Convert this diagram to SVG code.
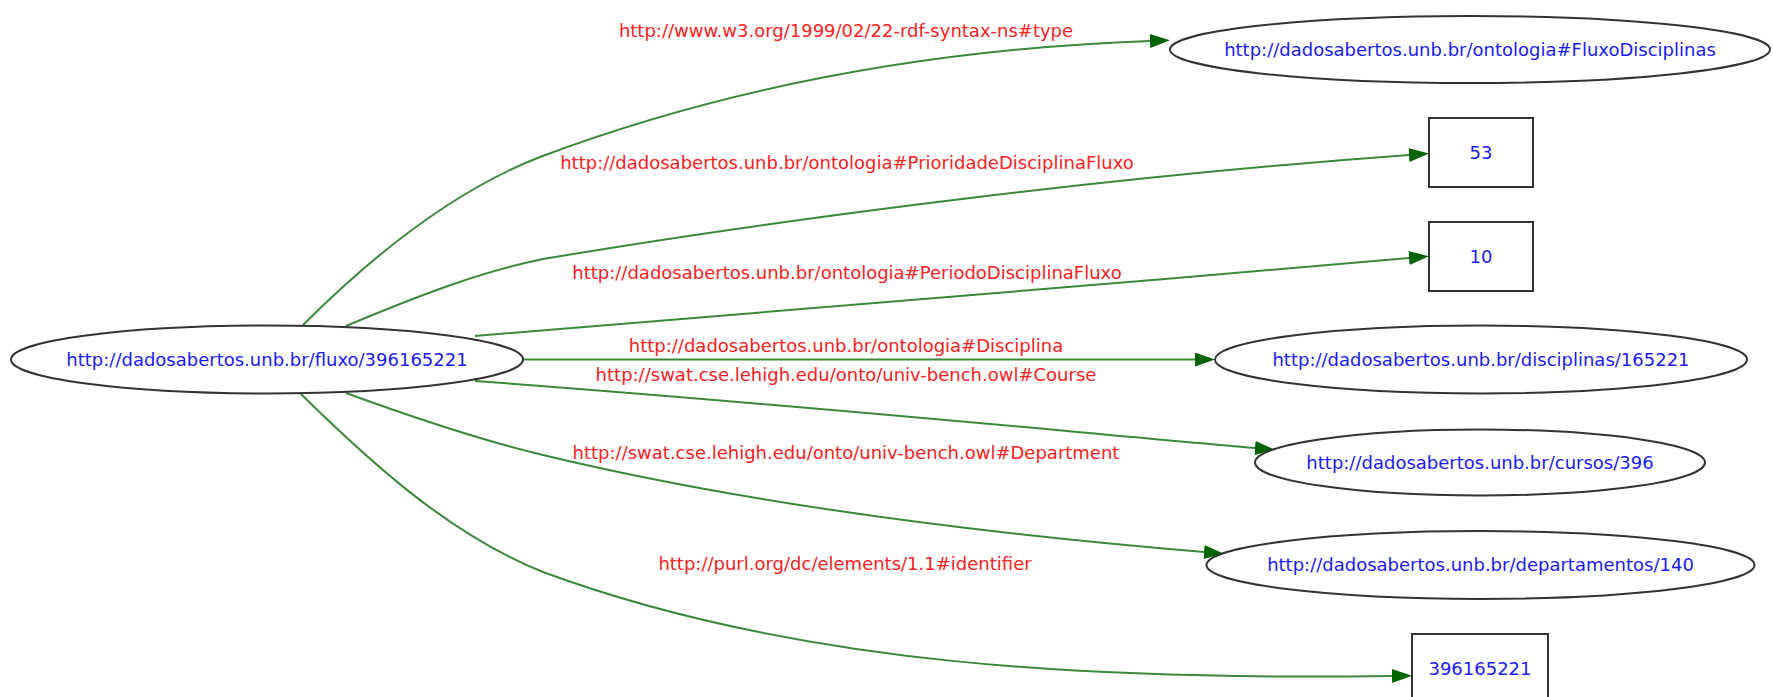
<svg xmlns="http://www.w3.org/2000/svg" width="1773" height="697" viewBox="0 0 1773 697">
  <style>
    .node ellipse, .node rect { fill: #ffffff; stroke: #333333; stroke-width: 2; }
    .node text { font-family: "DejaVu Sans", sans-serif; font-size: 18px; fill: #1a1aff; text-anchor: middle; }
    .edge path { fill: none; stroke: #3a883a; stroke-width: 2; }
    .edge text { font-family: "DejaVu Sans", sans-serif; font-size: 18px; fill: #ff2020; text-anchor: middle; }
  </style>
  <defs>
    <marker id="arrow" markerUnits="userSpaceOnUse" markerWidth="22" markerHeight="16" refX="0" refY="7" orient="auto">
      <path d="M0,0 L20,7 L0,14 z" fill="#006400"/>
    </marker>
  </defs>
  <rect width="1773" height="697" fill="#ffffff"/>

  <g id="connectors">
    <g class="edge" id="e-type">
      <path d="M303,325 C370,258 450,192 540,157 C700,97 900,50 1150,41" marker-end="url(#arrow)"/>
      <text x="846" y="37">http://www.w3.org/1999/02/22-rdf-syntax-ns#type</text>
    </g>
    <g class="edge" id="e-prioridade">
      <path d="M346,326 C420,295 480,272 543,259 C800,216 1120,176 1409,155" marker-end="url(#arrow)"/>
      <text x="847" y="169">http://dadosabertos.unb.br/ontologia#PrioridadeDisciplinaFluxo</text>
    </g>
    <g class="edge" id="e-periodo">
      <path d="M475,336 C800,310 1100,285 1409,258" marker-end="url(#arrow)"/>
      <text x="847" y="279">http://dadosabertos.unb.br/ontologia#PeriodoDisciplinaFluxo</text>
    </g>
    <g class="edge" id="e-disciplina">
      <path d="M523,359.5 L1195,359.5" marker-end="url(#arrow)"/>
      <text x="846" y="352">http://dadosabertos.unb.br/ontologia#Disciplina</text>
    </g>
    <g class="edge" id="e-course">
      <path d="M475,381 C800,405 1050,430 1255,448" marker-end="url(#arrow)"/>
      <text x="846" y="381">http://swat.cse.lehigh.edu/onto/univ-bench.owl#Course</text>
    </g>
    <g class="edge" id="e-department">
      <path d="M346,393 C420,420 480,440 543,455 C750,505 1000,535 1204,552" marker-end="url(#arrow)"/>
      <text x="846" y="459">http://swat.cse.lehigh.edu/onto/univ-bench.owl#Department</text>
    </g>
    <g class="edge" id="e-identifier">
      <path d="M301,394 C370,462 450,535 543,572 C800,667 1100,680 1392,676" marker-end="url(#arrow)"/>
      <text x="845" y="570">http://purl.org/dc/elements/1.1#identifier</text>
    </g>
  </g>

  <g class="node" id="n-fluxo">
    <ellipse cx="267" cy="359.5" rx="256" ry="34"/>
    <text x="267" y="366">http://dadosabertos.unb.br/fluxo/396165221</text>
  </g>
  <g class="node" id="n-fluxodisciplinas">
    <ellipse cx="1470" cy="49.5" rx="300" ry="33.5"/>
    <text x="1470" y="56">http://dadosabertos.unb.br/ontologia#FluxoDisciplinas</text>
  </g>
  <g class="node" id="n-53">
    <rect x="1429" y="118" width="104" height="69"/>
    <text x="1481" y="159">53</text>
  </g>
  <g class="node" id="n-10">
    <rect x="1429" y="222" width="104" height="69"/>
    <text x="1481" y="263">10</text>
  </g>
  <g class="node" id="n-disciplina">
    <ellipse cx="1481" cy="359.5" rx="266" ry="34"/>
    <text x="1481" y="366">http://dadosabertos.unb.br/disciplinas/165221</text>
  </g>
  <g class="node" id="n-curso">
    <ellipse cx="1480" cy="462.5" rx="225" ry="33"/>
    <text x="1480" y="469">http://dadosabertos.unb.br/cursos/396</text>
  </g>
  <g class="node" id="n-departamento">
    <ellipse cx="1480.5" cy="565" rx="274" ry="34"/>
    <text x="1480.5" y="571">http://dadosabertos.unb.br/departamentos/140</text>
  </g>
  <g class="node" id="n-identifier">
    <rect x="1412" y="634" width="136" height="69"/>
    <text x="1480" y="675">396165221</text>
  </g>
</svg>
